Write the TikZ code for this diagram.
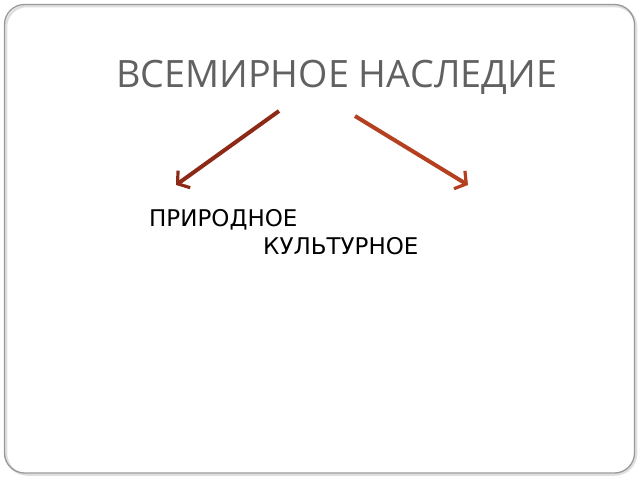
\documentclass[tikz,border=0pt]{standalone}
\usepackage{fontspec}
\setmainfont{DejaVu Sans}
\newfontfamily\titlefont{Open Sans}
\usetikzlibrary{arrows.meta}
\usetikzlibrary{positioning}
\tikzset{branch/.style = {line width=4pt,
                          -{Straight Barb[length=8pt, width=21pt, line width=3.2pt]}}}
\definecolor{mred}{rgb}{0.55, 0.16, 0.09}
\definecolor{mrust}{rgb}{0.71, 0.25, 0.12}
\definecolor{mgray}{rgb}{0.38, 0.38, 0.38}

\begin{document}
\begin{tikzpicture}[x=1pt, y=-1pt]
      \useasboundingbox (0, 0) rectangle (640, 480);

      \draw [line width=2.5pt, gray!25, rounded corners=21pt] (6, 6) rectangle (636, 474.5);
      \draw [line width=1.3pt, gray!80, rounded corners=20pt] (4.5, 4.5) rectangle (634.5, 473);

      \node [anchor=base west, inner sep=0, mgray, font=\titlefont\fontsize{37.7}{38}\selectfont] (title) at (116, 87) {ВСЕМИРНОЕ НАСЛЕДИЕ};

      \node [anchor=base west, inner sep=0, font=\fontsize{23}{23}\selectfont] (nat) at (149, 226) {ПРИРОДНОЕ};
      \node [anchor=base west, inner sep=0, font=\fontsize{23}{23}\selectfont] (cul) at (263, 254) {КУЛЬТУРНОЕ};

      \coordinate (natfrom) at (279, 111);
      \coordinate (natto) at (176, 185);
      \coordinate (culfrom) at (355, 116);
      \coordinate (culto) at (468, 185);

      \draw [branch, mred] (natfrom) -- (natto);
      \draw [branch, mrust] (culfrom) -- (culto);
    \end{tikzpicture}
\end{document}
